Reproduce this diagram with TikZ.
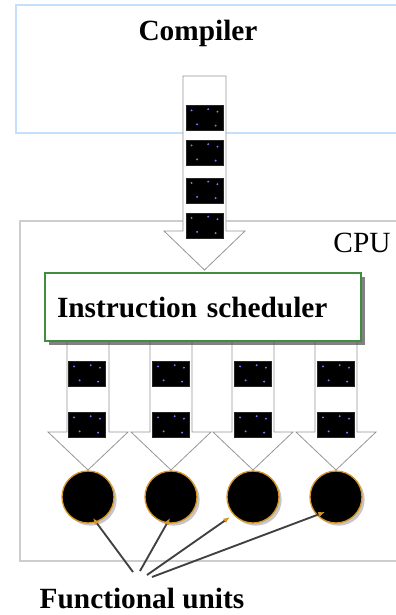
\documentclass[tikz,border=0pt]{standalone}
\usepackage{fontspec}
\setmainfont{Liberation Serif}
\usetikzlibrary{shadows,arrows.meta,calc}

\definecolor{boxblue}{RGB}{196,224,250}
\definecolor{cpugray}{RGB}{205,205,205}
\definecolor{schedgreen}{RGB}{64,140,64}
\definecolor{unitorange}{RGB}{215,150,40}
\definecolor{arrowgray}{RGB}{150,150,150}
\definecolor{dotblue}{RGB}{125,120,255}

\newcommand\bitdot[2]{\fill[dotblue] ($(path picture bounding box.south west)!#1!(path picture bounding box.south east)+(path picture bounding box.south west)!#2!(path picture bounding box.north west)-(path picture bounding box.south west)$) circle (0.8pt);}

\begin{document}
\begin{tikzpicture}[x=0.75pt,y=0.75pt,yscale=-1,xscale=1,
  bigtext/.style={font=\fontsize{22}{26}\selectfont},
  instr/.style={fill=black,draw=black!85,minimum width=27.75pt,minimum height=19pt,inner sep=0pt,
    path picture={\bitdot{0.15}{0.8}\bitdot{0.85}{0.75}\bitdot{0.3}{0.25}\bitdot{0.8}{0.2}\bitdot{0.6}{0.85}}},
  fatarrow/.style={draw=arrowgray,fill=white,line width=0.6pt},
  unit/.style={circle,fill=black,draw=unitorange,line width=1pt,minimum size=39pt,inner sep=0pt,
    drop shadow={shadow xshift=2pt,shadow yshift=-2pt,opacity=0.45}},
  pointer/.style={draw=black!75,line width=1.4pt,-{Latex[length=5pt,width=4pt,color=unitorange,fill=unitorange]}}
]
\useasboundingbox (0,0) rectangle (396,615);

%Shape: Compiler box
\draw [boxblue, line width=1pt] (397,5) -- (16,5) -- (16,133) -- (397,133) ;
%Shape: CPU box
\draw [cpugray, line width=1pt] (397,221) -- (20,221) -- (20,561) -- (397,561) ;

%Shape: Arrow into the CPU
\draw [fatarrow] (183,76) -- (226,76) -- (226,231) -- (245,231) -- (204.5,270) -- (164,231) -- (183,231) -- cycle ;
\foreach \y [count=\i] in {118,153,190.5,225.5}
  \node [instr] (q\i) at (204.5,\y) {};

%Shape: Arrows to the units
\foreach \cx in {88,171,253,336}
  \draw [fatarrow] (\cx-21,341) -- (\cx+21,341) -- (\cx+21,432) -- (\cx+40,432) -- (\cx,470) -- (\cx-40,432) -- (\cx-21,432) -- cycle ;
\foreach \cx [count=\i] in {87,171,253,336} {
  \node [instr] (a\i) at (\cx,374) {};
  \node [instr] (b\i) at (\cx,425) {};
}

% Text Node
\node [bigtext, font=\fontsize{22}{26}\selectfont\bfseries, draw=schedgreen, line width=1pt, fill=white,
  text width=219pt, align=left, inner xsep=9pt, minimum height=51pt,
  drop shadow={shadow xshift=3pt,shadow yshift=-3pt,fill=black!70,opacity=0.7}] (sched) at (203,307) {Instruction scheduler};

%Shape: Functional units
\foreach \cx [count=\i] in {88,171,253,336}
  \node [unit] (u\i) at (\cx,497) {};

\coordinate (fu1) at (133,572);
\coordinate (fu2) at (140,571);
\coordinate (fu3) at (147,575);
\coordinate (fu4) at (152,577);
\draw [pointer] (fu1) -- ($(u1.center)+(5,21)$) ;
\draw [pointer] (fu2) -- ($(u2.center)+(-1,21)$) ;
\draw [pointer] (fu3) -- ($(u3.center)+(-23,20)$) ;
\draw [pointer] (fu4) -- ($(u4.center)+(-11,15)$) ;

% Text Node
\node [bigtext, font=\fontsize{22}{26}\selectfont\bfseries] (comp) at (198,33) {Compiler};
% Text Node
\node [bigtext] (cpu) at (362,243) {CPU};
% Text Node
\node [bigtext, font=\fontsize{22}{26}\selectfont\bfseries] (fu) at (142,598) {Functional units};

\end{tikzpicture}
\end{document}
